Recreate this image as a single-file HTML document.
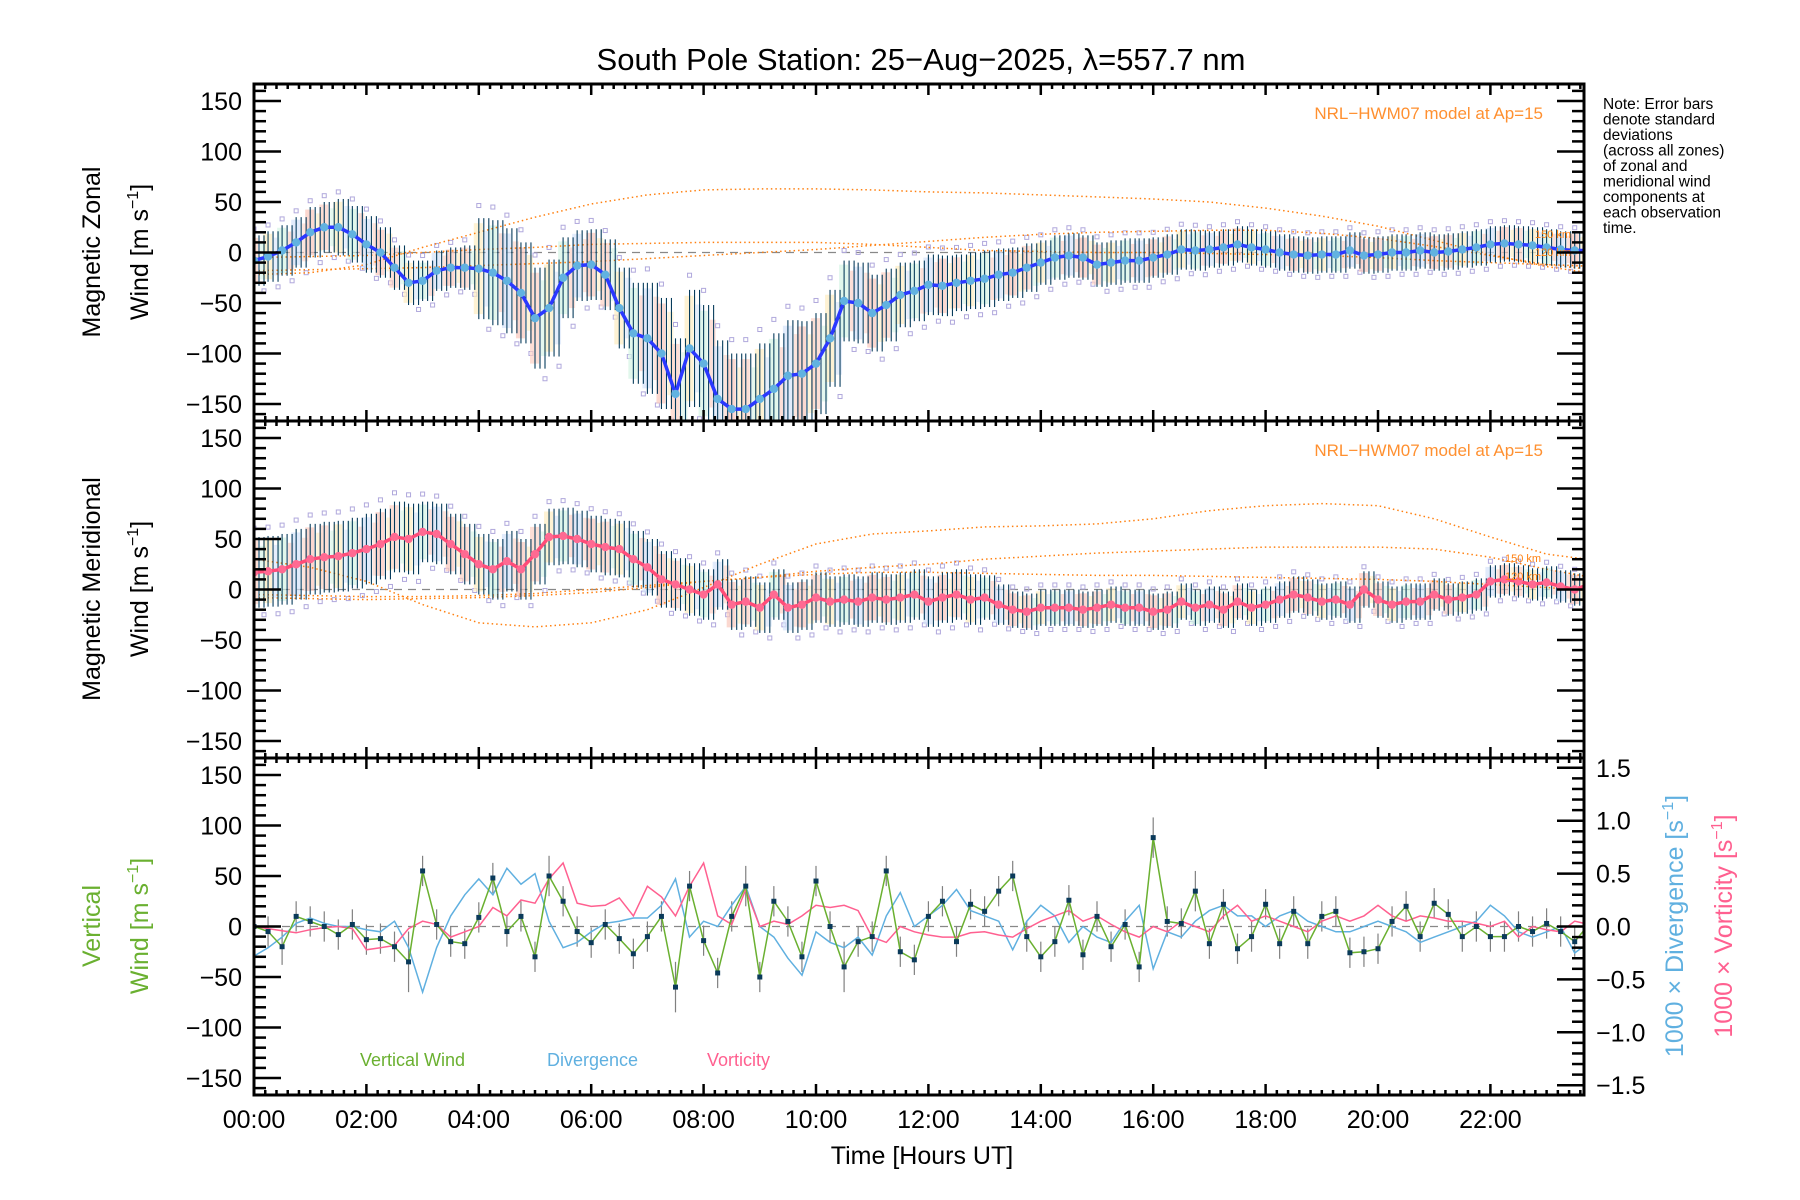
<!DOCTYPE html>
<html><head><meta charset="utf-8"><style>
html,body{margin:0;padding:0;background:#fff}
svg{display:block;font-family:"Liberation Sans",sans-serif}
</style></head><body>
<svg id="chart" width="1800" height="1200" viewBox="0 0 1800 1200" xmlns="http://www.w3.org/2000/svg">
<defs>
<clipPath id="clip0"><rect x="254" y="84" width="1330" height="337"/></clipPath>
<clipPath id="clip1"><rect x="254" y="421" width="1330" height="337"/></clipPath>
<clipPath id="clip2"><rect x="254" y="758" width="1330" height="337"/></clipPath>
</defs>
<text x="921" y="70" font-size="31" text-anchor="middle">South Pole Station: 25−Aug−2025, λ=557.7 nm</text>
<g id="marks"></g>
<g id="axes"></g>
<g font-size="25">
<text transform="translate(100,252) rotate(-90)" text-anchor="middle">Magnetic Zonal</text>
<text transform="translate(148,252) rotate(-90)" text-anchor="middle">Wind [m s<tspan dy="-10" font-size="16">−1</tspan><tspan dy="10">]</tspan></text>
</g>
<g font-size="25">
<text transform="translate(100,589) rotate(-90)" text-anchor="middle">Magnetic Meridional</text>
<text transform="translate(148,589) rotate(-90)" text-anchor="middle">Wind [m s<tspan dy="-10" font-size="16">−1</tspan><tspan dy="10">]</tspan></text>
</g>
<g font-size="25" fill="#6ab030">
<text transform="translate(100,926) rotate(-90)" text-anchor="middle">Vertical</text>
<text transform="translate(148,926) rotate(-90)" text-anchor="middle">Wind [m s<tspan dy="-10" font-size="16">−1</tspan><tspan dy="10">]</tspan></text>
</g>
<text transform="translate(1683,926) rotate(-90)" text-anchor="middle" font-size="25" fill="#60b0e0">1000 × Divergence [s<tspan dy="-10" font-size="16">−1</tspan><tspan dy="10">]</tspan></text>
<text transform="translate(1732,926) rotate(-90)" text-anchor="middle" font-size="25" fill="#ff6090">1000 × Vorticity [s<tspan dy="-10" font-size="16">−1</tspan><tspan dy="10">]</tspan></text>
<text x="922" y="1164" font-size="25" text-anchor="middle">Time [Hours UT]</text>
<g font-size="15.5">
<text x="1603" y="109">Note: Error bars</text>
<text x="1603" y="124.5">denote standard</text>
<text x="1603" y="140">deviations</text>
<text x="1603" y="155.5">(across all zones)</text>
<text x="1603" y="171">of zonal and</text>
<text x="1603" y="186.5">meridional wind</text>
<text x="1603" y="202">components at</text>
<text x="1603" y="217.5">each observation</text>
<text x="1603" y="233">time.</text>
</g>
<text x="1543" y="119" font-size="17" fill="#ff9030" text-anchor="end">NRL−HWM07 model at Ap=15</text>
<text x="1543" y="456" font-size="17" fill="#ff9030" text-anchor="end">NRL−HWM07 model at Ap=15</text>
<text x="360" y="1066" font-size="18" fill="#6ab030">Vertical Wind</text>
<text x="547" y="1066" font-size="18" fill="#60b0e0">Divergence</text>
<text x="707" y="1066" font-size="18" fill="#ff6090">Vorticity</text>
</svg>
<script>
const STEP = 0.25;
const zonal = [-8,-4,2,10,20,25,25,18,8,0,-15,-30,-28,-18,-15,-15,-16,-20,-28,-40,-65,-55,-25,-13,-12,-22,-55,-80,-85,-100,-140,-95,-110,-145,-155,-155,-145,-135,-122,-120,-110,-85,-48,-50,-60,-52,-42,-38,-32,-33,-30,-28,-26,-22,-20,-15,-10,-5,-3,-5,-12,-10,-8,-8,-5,-2,3,2,3,5,8,5,3,0,-2,-3,-2,-2,2,-3,-2,0,0,2,0,1,3,5,8,9,8,7,5,3,2,2];
const zonalStd = [25,25,25,25,25,25,28,28,28,25,22,22,20,20,20,22,50,52,52,50,50,48,40,35,35,35,40,50,55,55,55,58,58,58,55,55,55,55,55,52,50,48,40,40,38,36,32,30,30,30,28,28,28,26,25,24,22,22,22,22,22,22,22,22,20,20,20,20,18,18,18,18,18,18,18,18,18,18,18,18,18,18,18,18,18,18,18,18,18,18,18,18,18,18,18,18];
const merid = [17,18,20,25,30,32,33,36,40,45,52,50,57,55,45,35,25,20,28,20,35,52,53,50,45,42,40,30,22,10,5,0,-5,5,-15,-12,-18,-5,-18,-15,-8,-12,-10,-12,-8,-10,-8,-5,-12,-8,-5,-10,-8,-15,-20,-22,-18,-18,-18,-20,-18,-15,-18,-18,-22,-20,-12,-18,-15,-20,-12,-18,-15,-10,-5,-8,-12,-10,-15,0,-10,-15,-12,-12,-5,-10,-8,-5,8,10,8,5,7,3,0,5];
const meridStd = [35,35,35,35,35,35,35,35,35,35,35,35,30,30,30,30,30,30,30,30,30,28,28,28,28,28,28,28,28,28,26,26,25,25,25,25,25,25,25,25,25,25,25,25,25,25,25,25,25,25,25,25,22,20,18,18,18,18,18,18,18,18,18,18,18,18,18,18,18,18,18,18,18,18,18,18,18,18,18,18,18,18,18,18,16,16,16,16,16,16,16,16,16,16,16,16];
const MODEL_STEP = 1;
const zonalModelA = [-22,-20,-12,5,20,35,48,57,62,63,63,62,60,59,57,55,53,50,44,36,26,12,-2,-14,-22];
const zonalModelB = [-5,-4,-3,0,3,5,8,9,10,10,10,8,5,2,1,0,0,-1,-2,-3,-5,-8,-10,-12,-14];
const zonalModelC = [-18,-17,-16,-15,-13,-11,-9,-6,-3,0,3,7,11,15,18,20,21,22,22,19,14,6,-3,-12,-18];
const meridModelA = [30,22,8,-15,-33,-37,-33,-20,2,25,45,55,58,62,63,65,70,78,83,85,83,70,52,35,28];
const meridModelB = [-8,-9,-10,-9,-8,-6,-3,2,8,12,15,17,17,16,15,14,14,13,12,11,10,8,5,2,-2];
const meridModelC = [-5,-6,-7,-7,-6,-4,0,4,8,12,18,22,25,30,33,36,38,40,42,42,42,40,32,20,10];
const vertical = [0,-5,-20,10,5,0,-8,2,-13,-12,-20,-35,55,2,-15,-17,9,48,-5,10,-30,50,25,-5,-16,2,-12,-27,-10,10,-60,40,-14,-46,10,40,-50,25,5,-30,45,0,-40,-15,-10,55,-25,-33,10,25,-15,22,15,35,50,-10,-30,-15,26,-28,10,-20,2,-40,88,5,3,35,-17,22,-22,-10,22,-17,15,-17,10,15,-26,-25,-22,5,20,-10,23,12,-10,0,-10,-10,0,-5,3,-5,-15,2];
const verticalStd = [12,15,18,15,15,15,15,15,15,15,15,30,15,15,15,15,15,15,15,15,15,20,15,15,15,15,15,15,15,15,25,15,15,15,15,20,15,15,15,15,15,15,25,15,15,15,15,15,15,15,15,15,15,15,15,15,15,15,15,15,15,15,15,15,20,15,15,20,15,15,15,15,15,15,15,15,15,15,15,15,15,15,15,15,15,15,15,15,15,15,15,15,15,15,15,15];
const divergence = [-0.28,-0.2,-0.1,0.03,0.08,0.03,0,0,-0.03,-0.05,0.05,-0.2,-0.62,-0.2,0.1,0.3,0.45,0.3,0.55,0.4,0.5,0.05,-0.2,-0.15,-0.05,0.03,0.05,0.08,0.08,0.2,0.45,-0.1,0.05,0,0.2,0.38,0,-0.1,-0.3,-0.46,-0.05,-0.15,-0.2,-0.1,-0.27,0.1,0.32,0,0.1,0.2,0.35,0.15,0.1,0.05,-0.22,0.05,0.2,0.1,-0.15,0,-0.1,-0.15,0.05,0.2,-0.4,-0.05,-0.1,0.05,0.15,0.2,0.1,0.1,0,0.1,0.15,0.05,0,-0.05,-0.05,0,0.05,0,-0.05,-0.15,-0.1,-0.05,0,0.05,0.2,0.1,-0.05,-0.1,-0.05,0,-0.25,-0.15];
const vorticity = [0,-0.02,-0.04,-0.06,-0.03,-0.01,0,-0.02,-0.22,-0.2,-0.18,-0.02,0.05,0.02,-0.1,-0.05,0,0.18,0.1,0.25,0.22,0.45,0.6,0.22,0.19,0.2,0.27,0.1,0.38,0.28,0.1,0.38,0.6,0.1,0.02,0.35,0,0.05,0.02,0.1,0.2,0.18,0.2,0.15,-0.1,-0.15,0,-0.05,-0.08,-0.1,-0.1,-0.06,-0.05,-0.08,-0.1,-0.02,0.05,0.1,0.15,0.05,0.1,0.02,-0.05,-0.1,0,-0.05,0.05,0,-0.05,0.1,0.2,0.05,0.1,0.05,0,-0.05,0.05,0.1,0.05,0.1,0.2,0.1,0.05,0.1,0.08,0.05,0.05,0.03,0,0.05,-0.1,0,-0.03,-0.05,0.05,0.02];
const yTickLabels = ['150','100','50','0','−50','−100','−150'];
const yTickValues = [150,100,50,0,-50,-100,-150];
const rTickLabels = ['1.5','1.0','0.5','0.0','−0.5','−1.0','−1.5'];
const rTickValues = [1.5,1.0,0.5,0,-0.5,-1.0,-1.5];
const xTickLabels = ['00:00','02:00','04:00','06:00','08:00','10:00','12:00','14:00','16:00','18:00','20:00','22:00'];
const xTickValues = [0,2,4,6,8,10,12,14,16,18,20,22];

const NS='http://www.w3.org/2000/svg';
const L=254, R=1584, PXH=56.2;
const panels=[84,421,758]; const PH=337;
function xs(h){return L+h*PXH;}
function ys(p,v){return panels[p]+PH/2 - v*151.5/150;}
function yr(v){return panels[2]+PH/2 - v*105.8;}
const marks=document.getElementById('marks'), axes=document.getElementById('axes');
function el(tag,attrs,parent){const e=document.createElementNS(NS,tag);for(const k in attrs)e.setAttribute(k,attrs[k]);(parent||marks).appendChild(e);return e;}
function linePath(arr,step,yf){return arr.map((v,i)=>(i?'L':'M')+xs(i*step).toFixed(1)+' '+yf(v).toFixed(1)).join('');}

for(let p=0;p<3;p++){
  const z=el('line',{x1:L,x2:R,y1:ys(p,0),y2:ys(p,0),stroke:'#888','stroke-width':1.3,'stroke-dasharray':'8 6'});
  
  
}
const pastel=['#fcd2c4','#fdecc0','#d4f4e4','#d4e2fa','#fac8bc'];
function windPanel(p,mean,std,lineCol,dotCol,models,name){
  const g=el('g',{'clip-path':'url(#clip'+p+')'});
  
  
  mean.forEach((v,i)=>{
    const x=xs(i*STEP), s=std[i];
    const b=el('rect',{x:x-5,y:ys(p,v+s*0.9),width:9,height:ys(p,v-s*0.9)-ys(p,v+s*0.9),fill:pastel[i%5],opacity:0.7},g);
    
    
    const b2=el('rect',{x:x+6,y:ys(p,v+s*0.75),width:6,height:ys(p,v-s*0.75)-ys(p,v+s*0.75),fill:pastel[(i+2)%5],opacity:0.6},g);
    
    
    const q1=el('rect',{x:x-2,y:ys(p,v+s*1.25)-2,width:4,height:4,fill:'none',stroke:'#b0a8dc','stroke-width':1},g);
    
    
    const q2=el('rect',{x:x+8,y:ys(p,v-s*1.2)-2,width:4,height:4,fill:'none',stroke:'#b0a8dc','stroke-width':1},g);
    
    
  });
  models.forEach(m=>{
    const ml=el('path',{d:linePath(m,MODEL_STEP,v=>ys(p,v)),fill:'none',stroke:'#ff8010','stroke-width':1.5,'stroke-dasharray':'1.5 3'},g);
    
    
  });
  mean.forEach((v,i)=>{
    const x=xs(i*STEP), s=std[i];
    for(const dx of [0,5,10]){
      const eb=el('line',{x1:x+dx,x2:x+dx,y1:ys(p,v+s),y2:ys(p,v-s),stroke:'#073c5c','stroke-width':1.1},g);
      
      
    }
  });
  const ln=el('path',{d:linePath(mean,STEP,v=>ys(p,v)),fill:'none',stroke:lineCol,'stroke-width':3.5},g);
  
  
  mean.forEach((v,i)=>{
    const c=el('circle',{cx:xs(i*STEP),cy:ys(p,v),r:4.2,fill:dotCol},g);
    
    
  });
}
windPanel(0,zonal,zonalStd,'#2a38ff','#62b2e0',[zonalModelA,zonalModelB,zonalModelC],'zonal');
windPanel(1,merid,meridStd,'#ff4c78','#ff6a92',[meridModelA,meridModelB,meridModelC],'meridional');

const g3=el('g',{'clip-path':'url(#clip2)'});


vertical.forEach((v,i)=>{
  const e=el('line',{x1:xs(i*STEP),x2:xs(i*STEP),y1:ys(2,v+verticalStd[i]),y2:ys(2,v-verticalStd[i]),stroke:'#808080','stroke-width':1.2},g3);
  
  
});
const dv=el('path',{d:linePath(divergence,STEP,yr),fill:'none',stroke:'#60b0e0','stroke-width':1.5},g3);


const vo=el('path',{d:linePath(vorticity,STEP,yr),fill:'none',stroke:'#ff6090','stroke-width':1.5},g3);


const vw=el('path',{d:linePath(vertical,STEP,v=>ys(2,v)),fill:'none',stroke:'#6ab030','stroke-width':1.5},g3);


vertical.forEach((v,i)=>{
  const s=el('rect',{x:xs(i*STEP)-2.5,y:ys(2,v)-2.5,width:5,height:5,fill:'#0a3a5a'},g3);
  
  
});

[[1535,238,'150 km'],[1535,256,'120 km'],[1505,562,'150 km'],[1505,580,'120 km']].forEach(a=>{
  const t=el('text',{x:a[0],y:a[1],'font-size':11,fill:'#ff8010'},axes);
  t.textContent=a[2];
  
  
});

for(let p=0;p<3;p++){
  const T=panels[p], B=T+PH;
  const f=el('rect',{x:L,y:T,width:R-L,height:PH,fill:'none',stroke:'#000','stroke-width':3},axes);
  
  
  for(let v=-160;v<=160;v+=10){
    const major=v%50===0, len=major?27:12, y=ys(p,v);
    el('line',{x1:L,x2:L+len,y1:y,y2:y,stroke:'#000','stroke-width':2.5},axes);
    if(p<2) el('line',{x1:R,x2:R-len,y1:y,y2:y,stroke:'#000','stroke-width':2.5},axes);
  }
  yTickValues.forEach((v,i)=>{
    const t=el('text',{x:242,y:ys(p,v)+9,'font-size':25,'text-anchor':'end'},axes);
    t.textContent=yTickLabels[i];
    
    
  });
  for(let m=0;m<=23.7*5;m++){
    const h=m/5, major=(m%10===0), len=major?11:5, x=xs(h);
    el('line',{x1:x,x2:x,y1:T,y2:T+len,stroke:'#000','stroke-width':2.5},axes);
    el('line',{x1:x,x2:x,y1:B,y2:B-len,stroke:'#000','stroke-width':2.5},axes);
  }
}
for(let k=-16;k<=16;k++){
  const v=k/10, major=(k%5===0), len=major?27:12, y=yr(v);
  if(y<panels[2]||y>panels[2]+PH) continue;
  el('line',{x1:R,x2:R-len,y1:y,y2:y,stroke:'#000','stroke-width':2.5},axes);
}
rTickValues.forEach((v,i)=>{
  const t=el('text',{x:1596,y:yr(v)+9,'font-size':25},axes);
  t.textContent=rTickLabels[i];
  
  
});
xTickValues.forEach((h,i)=>{
  const t=el('text',{x:xs(h),y:1128,'font-size':25,'text-anchor':'middle'},axes);
  t.textContent=xTickLabels[i];
  
  
});
</script>
</body></html>
